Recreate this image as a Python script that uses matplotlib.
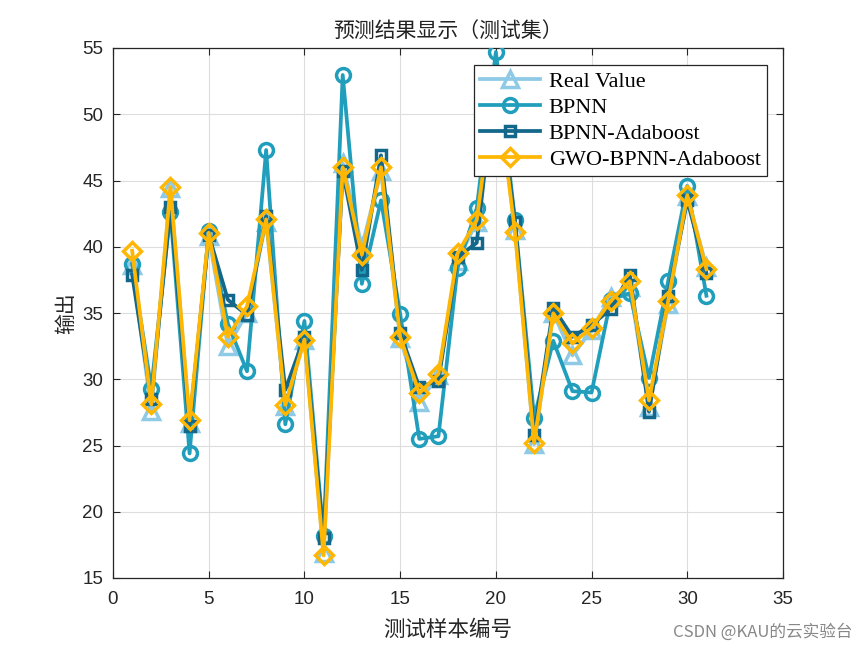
import matplotlib
matplotlib.use("Agg")
import matplotlib.pyplot as plt

samples = list(range(1, 32))
real_value = [38.6, 27.6, 44.4, 26.7, 40.8, 32.5, 35.0, 41.9, 28.0, 33.0,
              16.9, 46.3, 40.0, 45.7, 33.1, 28.3, 30.3, 38.9, 41.9, 53.0,
              41.3, 25.1, 35.0, 31.8, 33.7, 36.2, 37.0, 27.9, 35.7, 43.8, 38.5]
bpnn = [38.7, 29.3, 42.6, 24.4, 41.2, 34.2, 30.6, 47.3, 26.6, 34.4,
        18.2, 52.96, 37.2, 43.5, 34.95, 25.5, 25.7, 38.4, 42.9, 54.7,
        42.0, 27.1, 32.9, 29.1, 29.0, 36.0, 36.5, 30.1, 37.4, 44.6, 36.3]
bpnn_ada = [37.9, 28.5, 43.0, 26.5, 40.9, 36.0, 34.85, 42.3, 29.2, 33.2,
            18.0, 45.7, 38.25, 46.9, 33.5, 29.4, 29.9, 39.2, 40.3, 53.2,
            41.9, 25.8, 35.4, 33.2, 34.1, 35.3, 37.9, 27.55, 36.3, 43.5, 38.0]
gwo_bpnn_ada = [39.7, 28.1, 44.5, 26.9, 41.06, 33.2, 35.5, 42.07, 28.06, 33.0,
                16.7, 46.0, 39.4, 46.0, 33.2, 28.94, 30.4, 39.5, 42.0, 52.8,
                41.1, 25.2, 34.98, 32.7, 33.9, 35.9, 37.4, 28.4, 35.9, 43.9, 38.3]

series_names = ["Real Value", "BPNN", "BPNN-Adaboost", "GWO-BPNN-Adaboost"]
x_ticks = [0, 5, 10, 15, 20, 25, 30, 35]
y_ticks = [15, 20, 25, 30, 35, 40, 45, 50, 55]

cjk = ["Noto Sans CJK SC", "DejaVu Sans"]

fig = plt.figure(figsize=(8.65, 6.5), dpi=100)
ax = fig.add_axes([113/865, 1-578/650, 670/865, 530/650])

lw = 2.7
ax.plot(samples, real_value, color="#8ECAE6", lw=lw, marker="^", ms=11,
        mfc="none", mew=2.5, label=series_names[0], zorder=3)
ax.plot(samples, bpnn, color="#219EBC", lw=lw, marker="o", ms=10,
        mfc="none", mew=2.5, label=series_names[1], zorder=4)
ax.plot(samples, bpnn_ada, color="#12678A", lw=lw, marker="s", ms=7.5,
        mfc="none", mew=2.5, label=series_names[2], zorder=5)
ax.plot(samples, gwo_bpnn_ada, color="#FFB703", lw=lw, marker="D", ms=9,
        mfc="none", mew=2.5, label=series_names[3], zorder=6)

ax.set_xlim(0, 35)
ax.set_ylim(15, 55)
ax.set_xticks(x_ticks)
ax.set_yticks(y_ticks)
ax.grid(True, color="#DDDDDD", lw=0.8)
ax.set_axisbelow(True)
ax.tick_params(axis="both", direction="in", top=True, right=True, length=5, width=0.8,
               labelsize=13.5, colors="#262626")
ax.tick_params(axis="x", pad=9)
ax.tick_params(axis="y", pad=7)
for lab in ax.get_xticklabels() + ax.get_yticklabels():
    lab.set_family(["Liberation Sans", "DejaVu Sans"])
for sp in ax.spines.values():
    sp.set_color("#262626")
    sp.set_linewidth(0.9)

ax.set_title("预测结果显示（测试集）", family=cjk, fontsize=15, color="#222222", pad=8)
ax.set_xlabel("测试样本编号", family=cjk, fontsize=15.5, color="#262626", labelpad=8)
ax.set_ylabel("输出", family=cjk, fontsize=15, color="#262626", labelpad=4)

leg = ax.legend(loc="upper right", bbox_to_anchor=(0.976, 0.968), borderaxespad=0,
                prop={"family": "Liberation Serif", "size": 16}, fancybox=False,
                framealpha=1, edgecolor="#262626", handlelength=2.7,
                borderpad=0.28, labelspacing=0.25, handletextpad=0.4)
leg.get_frame().set_linewidth(0.9)
leg.set_zorder(10)

fig.text(0.985, 0.028, "CSDN @KAU的云实验台", family=cjk, fontsize=12,
         color="#888888", ha="right", va="center")

fig.savefig("out.png", dpi=100)
